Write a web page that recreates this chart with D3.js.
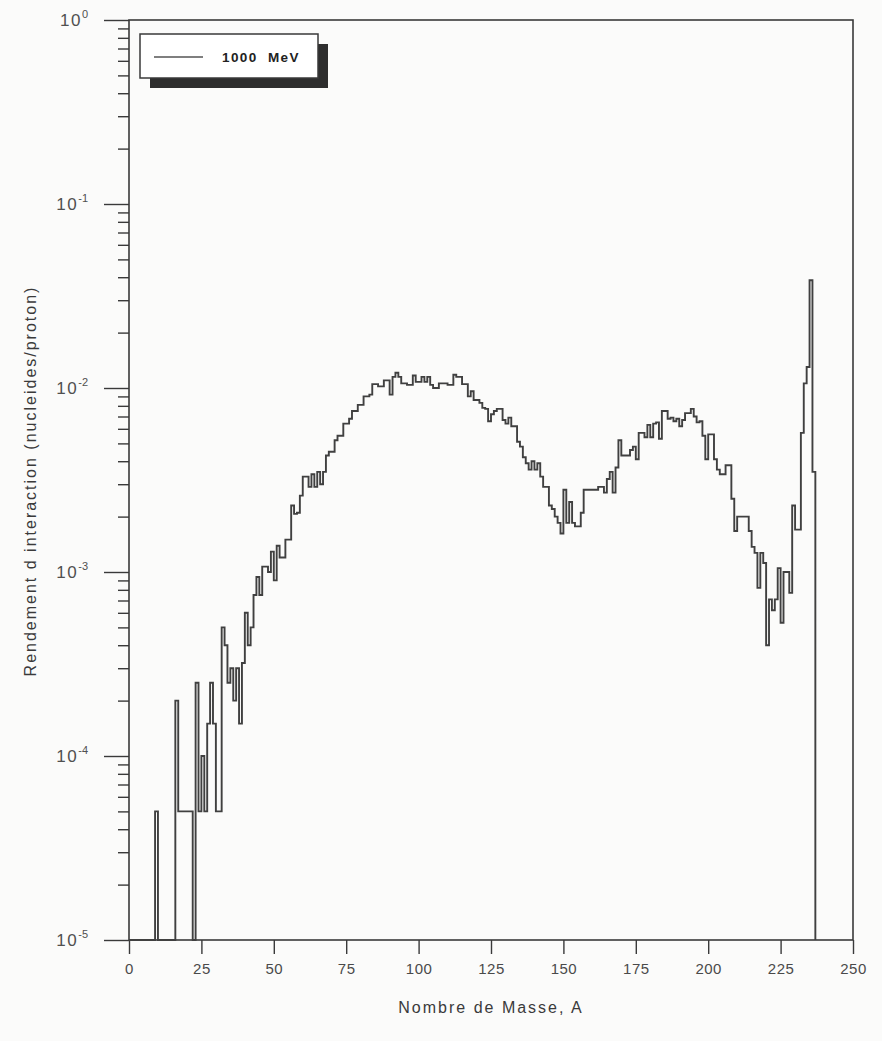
<!DOCTYPE html>
<html>
<head>
<meta charset="utf-8">
<script src="https://cdn.jsdelivr.net/npm/d3@7"></script>
<style>
  body { margin: 0; background: #fbfbfa; }
  svg { display: block; font-family: "Liberation Sans", Arial, sans-serif; }
</style>
</head>
<body>
<div class="canvas"></div>
<script>
// mass number bins start at A = 0, one unit wide
const binStart = 0;
const binWidth = 1;

// interaction yield (nucleides/proton) per bin; 0 = nothing in the bin
const yields = [
  // A 0-9
  0, 0, 0, 0, 0, 0, 0, 0, 0, 5e-5,
  // A 10-19
  0, 0, 0, 0, 0, 0, 2e-4, 5e-5, 5e-5, 5e-5,
  // A 20-29
  5e-5, 5e-5, 0, 2.5e-4, 5e-5, 1e-4, 5e-5, 1.5e-4, 2.5e-4, 1.5e-4,
  // A 30-39
  5e-5, 5e-5, 5e-4, 4e-4, 2.5e-4, 3e-4, 2e-4, 3e-4, 1.5e-4, 3.2e-4,
  // A 40-49
  6e-4, 4e-4, 5e-4, 7.5e-4, 9.4e-4, 7.5e-4, 1.07e-3, 1.07e-3, 1.0e-3, 1.29e-3,
  // A 50-59
  9e-4, 1.39e-3, 1.2e-3, 1.2e-3, 1.5e-3, 1.5e-3, 2.3e-3, 2.07e-3, 2.1e-3, 2.6e-3,
  // A 60-69
  3.3e-3, 3.3e-3, 2.9e-3, 3.4e-3, 2.9e-3, 3.5e-3, 3.0e-3, 3.5e-3, 4.3e-3, 4.5e-3,
  // A 70-79
  4.5e-3, 5.2e-3, 5.5e-3, 5.5e-3, 6.4e-3, 6.4e-3, 6.8e-3, 7.5e-3, 7.5e-3, 8.1e-3,
  // A 80-89
  8.1e-3, 9.0e-3, 9.0e-3, 9.2e-3, 1.05e-2, 1.05e-2, 1.02e-2, 1.02e-2, 1.1e-2, 1.1e-2,
  // A 90-99
  9.2e-3, 1.15e-2, 1.21e-2, 1.15e-2, 1.06e-2, 1.06e-2, 1.04e-2, 1.04e-2, 1.17e-2, 1.08e-2,
  // A 100-109
  1.08e-2, 1.15e-2, 1.08e-2, 1.15e-2, 1.04e-2, 1.0e-2, 1.0e-2, 1.06e-2, 1.06e-2, 1.06e-2,
  // A 110-119
  1.04e-2, 1.04e-2, 1.18e-2, 1.15e-2, 1.15e-2, 1.05e-2, 1.05e-2, 9.0e-3, 9.6e-3, 8.6e-3,
  // A 120-129
  8.6e-3, 8.3e-3, 7.8e-3, 7.7e-3, 6.6e-3, 7.2e-3, 7.5e-3, 7.7e-3, 7.7e-3, 6.7e-3,
  // A 130-139
  6.4e-3, 6.9e-3, 6.2e-3, 6.2e-3, 5.1e-3, 4.8e-3, 4.2e-3, 3.9e-3, 3.6e-3, 4.0e-3,
  // A 140-149
  3.6e-3, 3.9e-3, 3.3e-3, 2.9e-3, 2.9e-3, 2.3e-3, 2.2e-3, 2.0e-3, 1.85e-3, 1.62e-3,
  // A 150-159
  2.8e-3, 1.85e-3, 2.4e-3, 1.85e-3, 1.77e-3, 1.77e-3, 2.1e-3, 2.8e-3, 2.8e-3, 2.8e-3,
  // A 160-169
  2.8e-3, 2.8e-3, 2.9e-3, 2.9e-3, 2.7e-3, 3.2e-3, 3.5e-3, 2.7e-3, 3.7e-3, 5.2e-3,
  // A 170-179
  4.3e-3, 4.3e-3, 4.3e-3, 4.6e-3, 4.8e-3, 4.1e-3, 5.7e-3, 5.7e-3, 5.4e-3, 6.3e-3,
  // A 180-189
  5.4e-3, 6.4e-3, 6.5e-3, 5.3e-3, 7.5e-3, 7.5e-3, 6.8e-3, 6.9e-3, 6.6e-3, 6.8e-3,
  // A 190-199
  6.2e-3, 6.7e-3, 7.3e-3, 7.3e-3, 7.7e-3, 7.0e-3, 6.5e-3, 6.6e-3, 5.5e-3, 4.1e-3,
  // A 200-209
  5.6e-3, 5.6e-3, 4.1e-3, 3.6e-3, 3.4e-3, 3.4e-3, 3.8e-3, 3.8e-3, 2.5e-3, 1.67e-3,
  // A 210-219
  2.0e-3, 2.0e-3, 2.0e-3, 2.0e-3, 1.67e-3, 1.37e-3, 1.27e-3, 8.2e-4, 1.27e-3, 1.12e-3,
  // A 220-229
  4.0e-4, 7.1e-4, 6.2e-4, 7.1e-4, 1.05e-3, 5.3e-4, 1.0e-3, 1.0e-3, 7.7e-4, 2.3e-3,
  // A 230-236
  1.7e-3, 1.7e-3, 5.7e-3, 1.06e-2, 1.3e-2, 3.85e-2, 3.5e-3
];

// axis ticks and labels
const xTicks = [0, 25, 50, 75, 100, 125, 150, 175, 200, 225, 250];
const yExponents = [0, -1, -2, -3, -4, -5];
const legendLabel = '1000  MeV';
const xTitle = 'Nombre de Masse, A';
const yTitle = 'Rendement d interaction (nucleides/proton)';

const ink = '#3a3a3a';

const svg = d3.select('.canvas')
    .append('svg')
    .attr('width', 882)
    .attr('height', 1041);

const x = d3.scaleLinear().domain([0, 250]).range([129, 853]);
const y = d3.scaleLog().domain([1e-5, 1]).range([940, 20]).clamp(true);
const yPos = v => v > 0 ? y(v) : y(1e-5);

// minor + major ticks on the left axis
const majors = yExponents.map(e => Math.pow(10, e));
const minors = [];
yExponents.slice(1).forEach(e => {
  for (let k = 2; k <= 9; k++) minors.push(k * Math.pow(10, e));
});

const yMinorGroup = svg.append('g').attr('transform', 'translate(129,0)');
yMinorGroup.call(d3.axisLeft(y).tickValues(minors).tickSize(11).tickFormat('').tickSizeOuter(0));

const yMajorGroup = svg.append('g').attr('transform', 'translate(129,0)');
yMajorGroup.call(d3.axisLeft(y).tickValues(majors).tickSize(25).tickFormat('').tickSizeOuter(0));

[yMinorGroup, yMajorGroup].forEach(g => {
  g.select('.domain').remove();
  g.selectAll('line').attr('stroke', ink).attr('stroke-width', 1.4);
});

// y labels as 10 with superscript exponent
const yLabels = svg.append('g')
    .attr('fill', '#505050')
    .attr('text-anchor', 'end');
yExponents.forEach(e => {
  const t = yLabels.append('text')
      .attr('x', 88)
      .attr('y', y(Math.pow(10, e)) + 6);
  t.append('tspan')
      .attr('font-size', 17)
      .attr('letter-spacing', 1.5)
      .text('10');
  t.append('tspan')
      .attr('font-size', 11)
      .attr('dy', -8)
      .text(e === 0 ? '0' : '-' + Math.abs(e));
});

// x axis
const xAxisGroup = svg.append('g').attr('transform', 'translate(0,940)');
xAxisGroup.call(d3.axisBottom(x).tickValues(xTicks).tickSize(14).tickPadding(9).tickSizeOuter(0));
xAxisGroup.select('.domain').remove();
xAxisGroup.selectAll('line').attr('stroke', ink).attr('stroke-width', 1.4);
xAxisGroup.selectAll('text')
    .attr('font-size', 15)
    .attr('fill', '#4a4a4a')
    .attr('letter-spacing', 0.5)
    .attr('font-family', '"Liberation Sans", Arial, sans-serif');

// frame
svg.append('rect')
    .attr('x', x(0))
    .attr('y', y(1))
    .attr('width', x(250) - x(0))
    .attr('height', y(1e-5) - y(1))
    .attr('fill', 'none')
    .attr('stroke', ink)
    .attr('stroke-width', 1.6);

// histogram drawn as steps
const steps = yields.map((v, i) => ({a: binStart + i * binWidth, v}));
steps.push({a: binStart + yields.length * binWidth, v: 0});

const line = d3.line()
    .x(d => x(d.a))
    .y(d => yPos(d.v))
    .curve(d3.curveStepAfter);

svg.append('path')
    .datum(steps)
    .attr('d', line)
    .attr('fill', 'none')
    .attr('stroke', '#404040')
    .attr('stroke-width', 1.9);

// legend with drop shadow
const legend = svg.append('g');
legend.append('rect')
    .attr('x', 150).attr('y', 44)
    .attr('width', 178).attr('height', 44)
    .attr('fill', '#2e2e2e');
legend.append('rect')
    .attr('x', 140).attr('y', 34)
    .attr('width', 178).attr('height', 44)
    .attr('fill', '#ffffff')
    .attr('stroke', ink)
    .attr('stroke-width', 1.5);
legend.append('line')
    .attr('x1', 154).attr('x2', 203)
    .attr('y1', 57).attr('y2', 57)
    .attr('stroke', '#555')
    .attr('stroke-width', 1.6);
legend.append('text')
    .attr('x', 222).attr('y', 62)
    .attr('font-size', 13.5)
    .attr('font-weight', 'bold')
    .attr('letter-spacing', 1.4)
    .attr('fill', '#222')
    .attr('xml:space', 'preserve')
    .style('white-space', 'pre')
    .text(legendLabel);

// axis titles
svg.append('text')
    .attr('x', 491).attr('y', 1013)
    .attr('text-anchor', 'middle')
    .attr('font-size', 16)
    .attr('letter-spacing', 2)
    .attr('fill', '#3a3a3a')
    .text(xTitle);

svg.append('text')
    .attr('transform', 'translate(36,481) rotate(-90)')
    .attr('text-anchor', 'middle')
    .attr('font-size', 16)
    .attr('letter-spacing', 2)
    .attr('fill', '#3a3a3a')
    .text(yTitle);
</script>
</body>
</html>
